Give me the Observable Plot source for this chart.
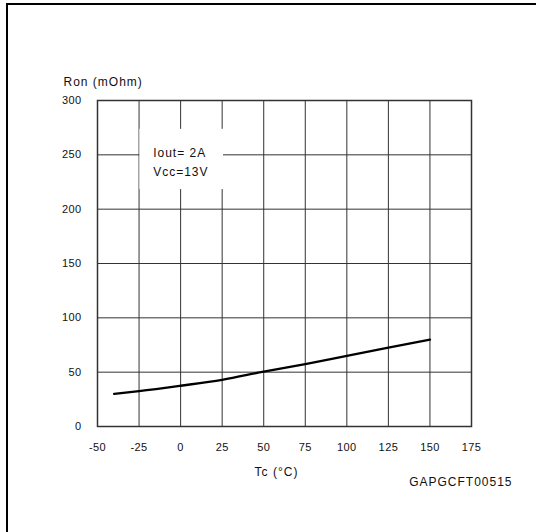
<!DOCTYPE html>
<html><head><meta charset="utf-8">
<script src="https://cdn.jsdelivr.net/npm/d3@7"></script>
<script src="https://cdn.jsdelivr.net/npm/@observablehq/plot@0.6"></script>
<style>
body{margin:0;background:#fff;}
#wrap{position:relative;width:536px;height:532px;overflow:hidden;background:#fff;}
#frame{position:absolute;left:6px;top:3px;width:600px;height:600px;border-left:2.5px solid #000;border-top:2.5px solid #000;box-sizing:border-box;}
#chart{position:absolute;left:0;top:0;}
</style></head><body><div id="wrap"><div id="frame"></div><div id="chart"></div></div>
<script>
const temps = [-40, -25, 0, 25, 50, 75, 100, 125, 150];
const ron = [30, 32.5, 37.5, 43, 50.5, 57.5, 65, 72.5, 80];
const xTicks = [-50, -25, 0, 25, 50, 75, 100, 125, 150, 175];
const yTicks = [0, 50, 100, 150, 200, 250, 300];
const legendLines = ["Iout= 2A", "Vcc=13V"];
const legendY = [251.7, 234.2];
const legendX = -16.5;
const legendBox = [{x1: -24.5, x2: 25.8, y1: 218, y2: 273.5}];
const yLabel = "Ron (mOhm)";
const xLabel = "Tc (°C)";
const code = "GAPGCFT00515";

const data = temps.map((t, i) => ({t, r: ron[i]}));
const font = "'Liberation Sans', Arial, sans-serif";

const chart = Plot.plot({
  width: 536, height: 532,
  marginLeft: 97, marginRight: 65, marginTop: 100, marginBottom: 106,
  style: {fontFamily: font, fontSize: "11px", color: "#111", background: "transparent"},
  x: {domain: [-50, 175]},
  y: {domain: [0, 300]},
  marks: [
    Plot.gridX(xTicks, {stroke: "#333", strokeOpacity: 1, strokeWidth: 1}),
    Plot.gridY(yTicks, {stroke: "#333", strokeOpacity: 1, strokeWidth: 1}),
    Plot.rect(legendBox, {x1: "x1", x2: "x2", y1: "y1", y2: "y2", fill: "white"}),
    Plot.frame({stroke: "#333", strokeWidth: 1.5}),
    Plot.line(data, {x: "t", y: "r", stroke: "black", strokeWidth: 2.3, curve: "monotone-x"}),
    Plot.text(legendLines, {x: legendX, y: (d, i) => legendY[i], text: d => d, textAnchor: "start", lineAnchor: "middle", fontSize: 12, fill: "#111"}),
    Plot.axisX({ticks: xTicks, tickSize: 0, tickPadding: 17, label: null, tickFormat: d => String(d)}),
    Plot.axisY({ticks: yTicks, tickSize: 0, tickPadding: 16, label: null, tickFormat: d => String(d)}),
    Plot.text([yLabel], {frameAnchor: "top-left", dx: -34, dy: -18, textAnchor: "start", lineAnchor: "middle", fontSize: 12, fill: "#111"}),
    Plot.text([xLabel], {frameAnchor: "bottom", dx: -8, dy: 46, lineAnchor: "middle", fontSize: 12, fill: "#111"}),
    Plot.text([code], {frameAnchor: "bottom-right", dx: 41, dy: 56, textAnchor: "end", lineAnchor: "middle", fontSize: 12, fill: "#111"})
  ]
});
chart.querySelectorAll("text").forEach(t => {
  const fs = parseFloat(t.getAttribute("font-size") || (t.parentNode && t.parentNode.getAttribute("font-size")) || 11);
  t.style.letterSpacing = fs >= 12 ? "1px" : "0.4px";
});
document.getElementById("chart").appendChild(chart);
</script></body></html>
